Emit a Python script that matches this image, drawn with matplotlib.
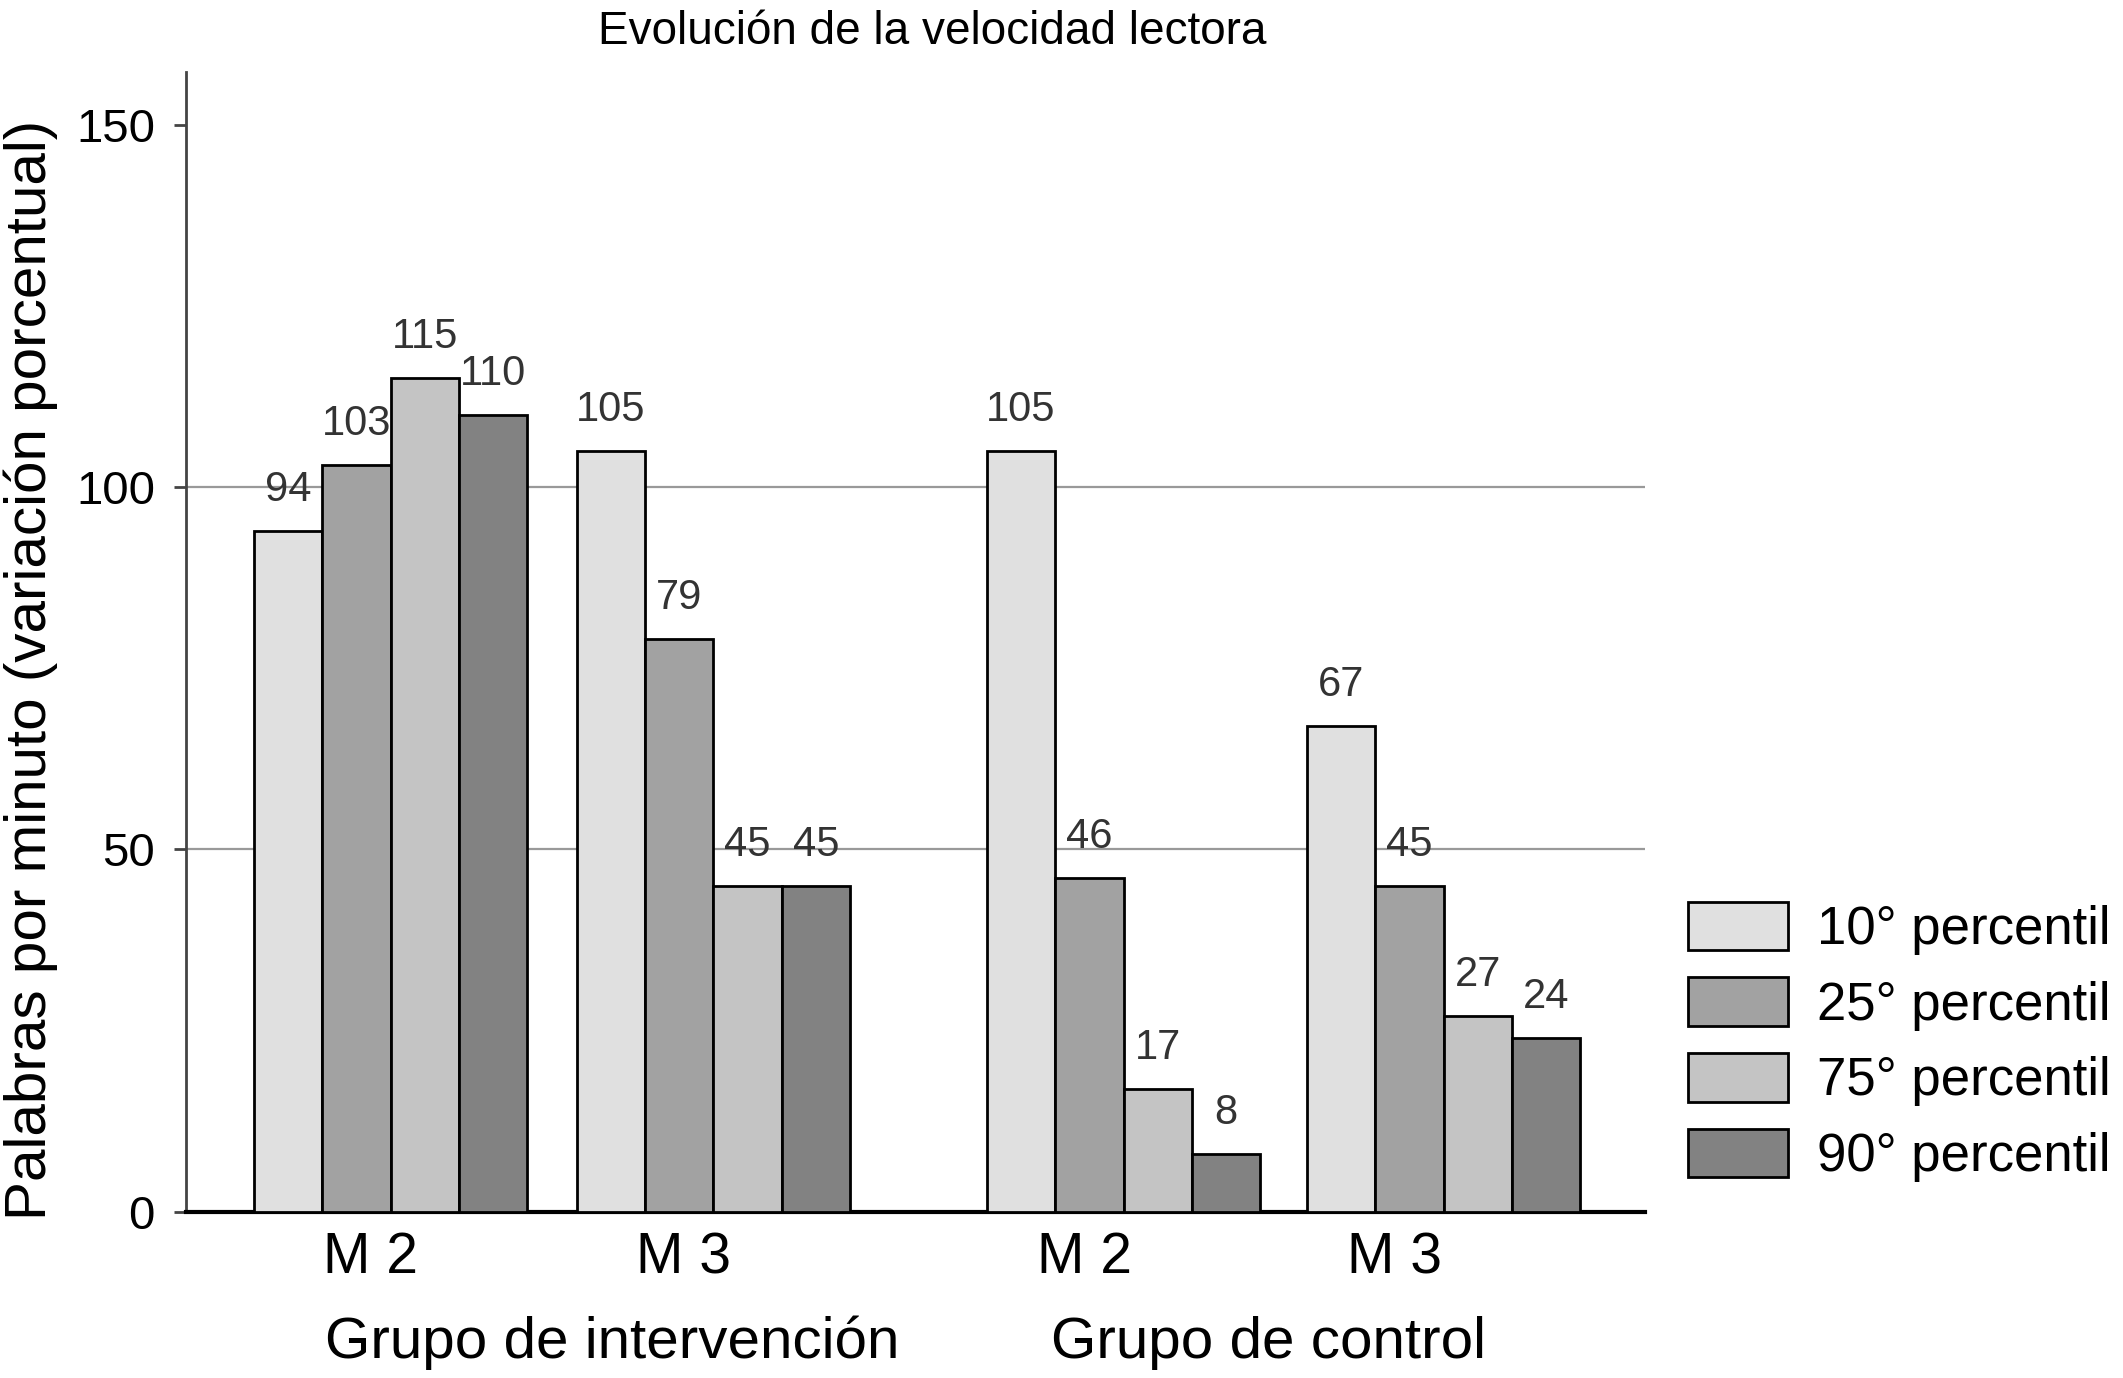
import numpy as np
import matplotlib
matplotlib.use('Agg')
import matplotlib.pyplot as plt

plt.rcParams['font.family'] = ['Liberation Sans', 'DejaVu Sans']

# datos
sesiones = ['M 2', 'M 3', 'M 2', 'M 3']
grupos = ['Grupo de intervención', 'Grupo de control']
percentiles = ['10° percentil', '25° percentil', '75° percentil', '90° percentil']
p10 = [94, 105, 105, 67]
p25 = [103, 79, 46, 45]
p75 = [115, 45, 17, 27]
p90 = [110, 45, 8, 24]
colores = ['#e0e0e0', '#a2a2a2', '#c4c4c4', '#828282']

fig = plt.figure(figsize=(21.23, 13.78), dpi=100)
ax = fig.add_axes([0.0874, 0.1205, 0.6876, 0.8275])

centros = np.array([3.0, 7.72, 13.72, 18.4])
series = [p10, p25, p75, p90]
for i, vals in enumerate(series):
    xs = centros + (i - 1.5)
    ax.bar(xs, vals, width=1.0, color=colores[i], edgecolor='black',
           linewidth=2, label=percentiles[i], zorder=3)
    for x, v in zip(xs, vals):
        ax.text(x, v + 2.9, str(v), ha='center', va='bottom', fontsize=30,
                color='#333333', zorder=4)

for yv in [50, 100]:
    ax.axhline(yv, color='#999999', linewidth=1.6, zorder=1)

ax.set_xlim(0, 21.35)
ax.set_ylim(0, 157.3)
ax.set_yticks([0, 50, 100, 150])
ax.tick_params(axis='y', labelsize=34, length=9, width=2, color='#444444', pad=13)
# las etiquetas del original quedan algo a la izquierda del centro de cada grupo
ax.set_xticks([2.71, 7.29, 13.15, 17.68])
ax.set_xticklabels(sesiones)
ax.tick_params(axis='x', labelsize=41, length=0, pad=14)

ax.spines['top'].set_visible(False)
ax.spines['right'].set_visible(False)
ax.spines['left'].set_color('#444444')
ax.spines['left'].set_linewidth(2)
ax.spines['bottom'].set_color('black')
ax.spines['bottom'].set_linewidth(3)

fig.text(0.0145, 0.5138, 'Palabras por minuto (variación porcentual)',
         rotation=90, ha='center', va='center', fontsize=42)

pos_grupos = [6.24, 15.84]
for x, g in zip(pos_grupos, grupos):
    ax.text(x, -0.115, g, transform=ax.get_xaxis_transform(), ha='center',
            va='center', fontsize=42)

fig.text(0.439, 0.993, 'Evolución de la velocidad lectora', ha='center',
         va='top', fontsize=33)

fig.legend(loc='center left', bbox_to_anchor=(0.795, 0.244), frameon=False,
           fontsize=38, handlelength=1.9, handleheight=1.05, labelspacing=0.42,
           handletextpad=0.55, borderpad=0, borderaxespad=0)

fig.savefig('out.png', dpi=100)
